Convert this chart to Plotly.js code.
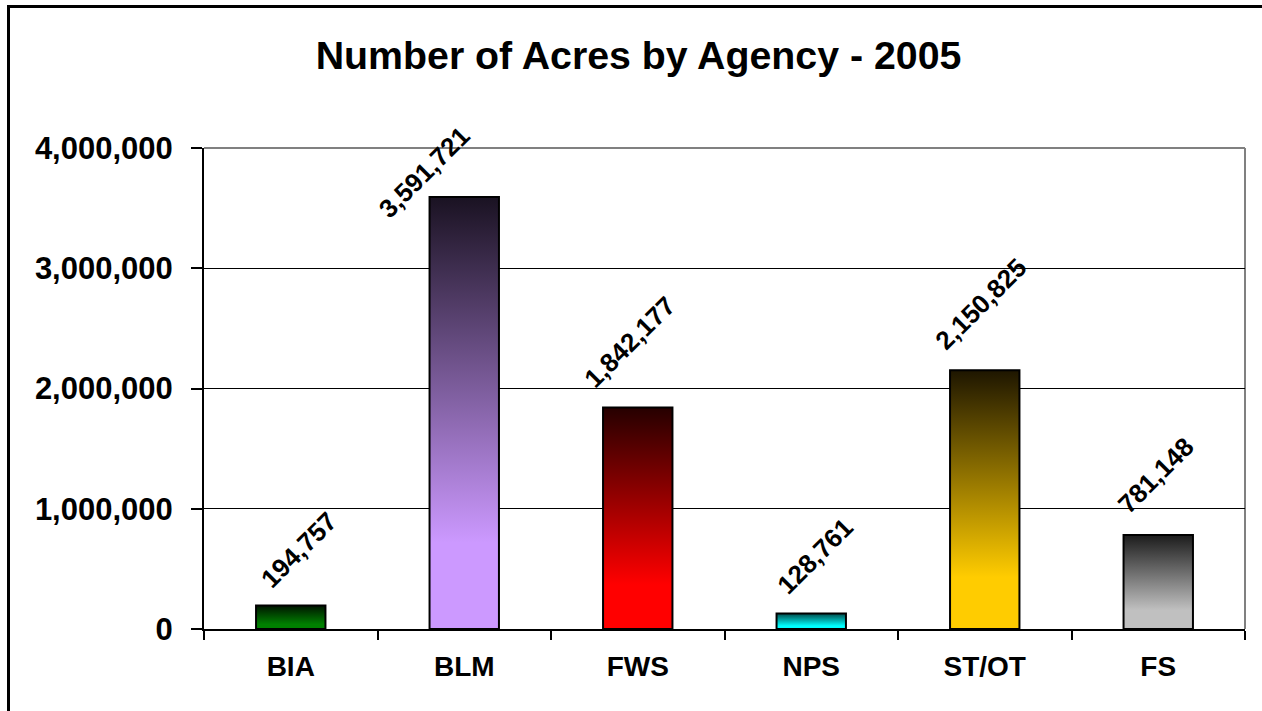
<!DOCTYPE html>
<html>
<head>
<meta charset="utf-8">
<script src="https://cdn.plot.ly/plotly-3.0.1.min.js"></script>
<style>
  html, body { margin: 0; padding: 0; background: #ffffff; }
  #chart { width: 1262px; height: 711px; }
</style>
</head>
<body>
<div id="chart"></div>
<script>
// ---- data ----
const agencies = ["BIA", "BLM", "FWS", "NPS", "ST/OT", "FS"];
const acres = [194757, 3591721, 1842177, 128761, 2150825, 781148];
const yTickValues = [0, 1000000, 2000000, 3000000, 4000000];

// ---- style ----
const gradTop =    ["#001400", "#1a1222", "#260000", "#004a4a", "#1e1600", "#1c1c1c"];
const gradBottom = ["#008000", "#cc99ff", "#ff0000", "#00ffff", "#ffcc00", "#c0c0c0"];
const labelNudgeX = [8, -40, -8, 4, -4, -2];
const labelNudgeY = [9, -29, 11, 11, 12, 13];

const W = 1262, H = 711;
const M = { l: 204, r: 17, t: 148, b: 82 };
const PW = W - M.l - M.r, PH = H - M.t - M.b;
const px = (x) => (x - M.l) / PW;
const py = (y) => (H - M.b - y) / PH;

const FONT = "Liberation Sans, Arial, Helvetica, sans-serif";
const fmt = (v) => v.toLocaleString("en-US");

const trace = {
  type: "bar",
  x: agencies,
  y: acres,
  width: 0.4,
  marker: { color: gradBottom, line: { color: "#000000", width: 2 } },
  hoverinfo: "x+y"
};

const annotations = agencies.map((a, i) => ({
  x: a, y: acres[i], xref: "x", yref: "y",
  text: fmt(acres[i]),
  showarrow: false,
  textangle: -45,
  xanchor: "center", yanchor: "bottom",
  xshift: labelNudgeX[i], yshift: labelNudgeY[i],
  font: { family: FONT, size: 26, color: "#000000", weight: 700 }
}));

const shapes = [
  // plot area border (top, right) in gray
  { type: "line", xref: "paper", yref: "paper", x0: 0, x1: 1, y0: 1, y1: 1,
    line: { color: "#808080", width: 2 }, layer: "above" },
  { type: "line", xref: "paper", yref: "paper", x0: 1, x1: 1, y0: 0, y1: 1,
    line: { color: "#808080", width: 2 }, layer: "below" },
  // outer chart frame (top and left)
  { type: "line", xref: "paper", yref: "paper", x0: px(7), x1: px(W + 5), y0: py(6.5), y1: py(6.5),
    line: { color: "#000000", width: 3 } },
  { type: "line", xref: "paper", yref: "paper", x0: px(8.5), x1: px(8.5), y0: py(5), y1: py(H + 5),
    line: { color: "#000000", width: 3 } }
];

const layout = {
  width: W, height: H,
  margin: M,
  paper_bgcolor: "#ffffff",
  plot_bgcolor: "#ffffff",
  showlegend: false,
  title: {
    text: "Number of Acres by Agency - 2005",
    font: { family: FONT, size: 39.3, color: "#000000", weight: 700 },
    xref: "container", yref: "container",
    x: 0.506, xanchor: "center",
    y: 1 - 55 / H, yanchor: "middle"
  },
  xaxis: {
    type: "category",
    showline: true, linecolor: "#000000", linewidth: 2,
    ticks: "outside", tickson: "boundaries", ticklen: 9, tickwidth: 2, tickcolor: "#000000",
    ticklabelstandoff: 11,
    tickfont: { family: FONT, size: 28, color: "#000000", weight: 700 },
    showgrid: false, zeroline: false,
    fixedrange: true
  },
  yaxis: {
    range: [0, 4000000],
    tickvals: yTickValues,
    ticktext: yTickValues.map(fmt),
    showline: true, linecolor: "#000000", linewidth: 2,
    ticks: "outside", ticklen: 11, tickwidth: 2, tickcolor: "#000000",
    ticklabelstandoff: 12,
    tickfont: { family: FONT, size: 31, color: "#000000", weight: 700 },
    showgrid: true, gridcolor: "#000000", gridwidth: 1.3,
    zeroline: false,
    fixedrange: true
  },
  annotations: annotations,
  shapes: shapes
};

Plotly.newPlot("chart", [trace], layout, { displayModeBar: false, staticPlot: true }).then((gd) => {
  const svgNS = "http://www.w3.org/2000/svg";
  const svg = gd.querySelector("svg.main-svg");
  let defs = svg.querySelector("defs");
  if (!defs) { defs = document.createElementNS(svgNS, "defs"); svg.insertBefore(defs, svg.firstChild); }
  gradTop.forEach((top, i) => {
    const g = document.createElementNS(svgNS, "linearGradient");
    g.setAttribute("id", "barGrad" + i);
    g.setAttribute("x1", "0"); g.setAttribute("y1", "0");
    g.setAttribute("x2", "0"); g.setAttribute("y2", "1");
    const s1 = document.createElementNS(svgNS, "stop");
    s1.setAttribute("offset", "0"); s1.setAttribute("stop-color", top);
    const s2 = document.createElementNS(svgNS, "stop");
    s2.setAttribute("offset", "0.8"); s2.setAttribute("stop-color", gradBottom[i]);
    const s3 = document.createElementNS(svgNS, "stop");
    s3.setAttribute("offset", "1"); s3.setAttribute("stop-color", gradBottom[i]);
    g.appendChild(s1); g.appendChild(s2); g.appendChild(s3);
    defs.appendChild(g);
  });
  const paths = gd.querySelectorAll(".trace.bars .point path");
  paths.forEach((p, i) => { p.style.fill = "url(#barGrad" + i + ")"; });
});
</script>
</body>
</html>
